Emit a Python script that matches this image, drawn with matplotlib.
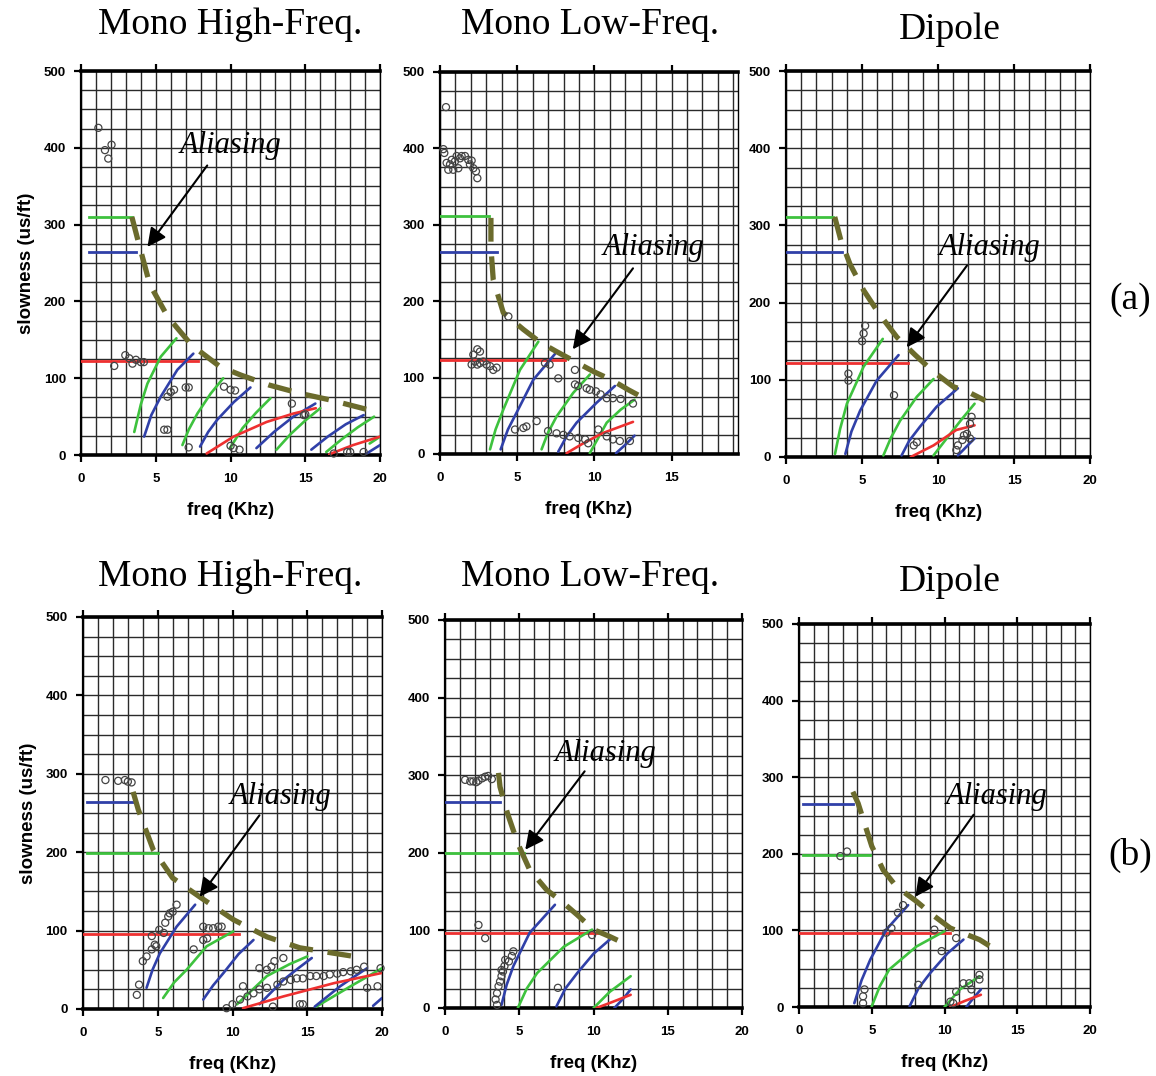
import matplotlib
matplotlib.use("Agg")
import matplotlib.pyplot as plt

# ---- data (freq in kHz, slowness in us/ft) ----
# row (a)
hf_a_levels = {"green": (310, 0.5, 3.4), "blue": (265, 0.5, 3.7), "red": (123, 0.0, 7.8)}
hf_a_dash = [(3.4, 310), (3.8, 280), (4.6, 222), (5.8, 180), (7.4, 143), (9.3, 115),
             (10.7, 104), (12.6, 91), (14.7, 80), (16.6, 72), (19.4, 58)]
hf_a_green = [[(3.56, 30), (4.0, 66), (4.44, 93), (5.33, 128), (6.38, 152)],
              [(6.78, 13), (7.2, 33), (7.78, 54), (8.67, 80), (9.51, 100)],
              [(9.96, 9), (10.8, 35), (11.7, 55), (12.67, 74)],
              [(13.07, 7), (14.0, 27), (15.0, 45), (16.0, 61)],
              [(16.4, 4), (17.4, 20), (18.5, 36), (19.6, 50)],
              [(19.3, 15), (20, 24)]]
hf_a_blue = [[(4.22, 24), (4.7, 52), (5.33, 76), (6.44, 111), (7.51, 132)],
             [(7.96, 11), (8.5, 30), (9.11, 46), (10.22, 69), (11.33, 88)],
             [(11.73, 9), (12.9, 30), (14.2, 50), (15.67, 67)],
             [(15.4, 7), (16.5, 24), (17.7, 40), (18.9, 52)],
             [(19.1, 2), (20, 13)]]
hf_a_red = [[(8.4, 2), (10.2, 24), (12.4, 43), (14.2, 54), (15.7, 61)],
            [(16.6, 1), (18.2, 13), (20, 24)]]
hf_a_pts = [(1.16, 426), (1.6, 397), (1.82, 386), (2.04, 404), (2.22, 116), (2.96, 130),
            (3.22, 126), (3.44, 119), (3.67, 124), (4.0, 121), (4.2, 121), (5.78, 76),
            (6.0, 82), (6.22, 85), (7.0, 88), (7.2, 88), (5.56, 33), (5.78, 33), (7.2, 10),
            (9.56, 89), (10.0, 85), (10.3, 84), (10.0, 12), (10.2, 9), (10.6, 7),
            (14.1, 67), (14.9, 52), (15.0, 53), (16.9, 2), (17.8, 4), (18.0, 4), (18.9, 4)]
hf_a_note = [(10.0, 403), (8.44, 377), (4.44, 271)]

lf_a_levels = {"green": (311, 0.0, 3.2), "blue": (265, 0.0, 3.7), "red": (123, 0.0, 8.1)}
lf_a_dash = [(3.3, 309), (3.3, 270), (3.45, 228), (4.1, 185), (5.4, 163), (6.5, 146),
             (7.55, 134), (8.74, 121), (9.93, 108), (11.1, 97), (12.2, 84), (13.4, 71)]
lf_a_green = [[(3.24, 6), (3.6, 32), (4.1, 58), (5.18, 110), (6.37, 147)],
              [(6.58, 6), (7.0, 28), (7.55, 49), (8.63, 80), (9.71, 104)],
              [(9.7, 1), (10.8, 41), (11.7, 58), (12.6, 71)]]
lf_a_blue = [[(3.93, 6), (4.4, 32), (4.96, 54), (6.04, 97), (7.45, 131)],
             [(7.66, 3), (8.2, 23), (8.85, 41), (10.14, 67), (11.33, 89)],
             [(11.4, 1), (12.0, 12), (12.6, 24)]]
lf_a_red = [[(8.2, 1), (9.2, 13), (10.5, 27), (12.5, 42)]]
lf_a_pts = [(0.39, 454), (0.22, 399), (0.28, 394), (0.43, 381), (0.65, 379), (0.76, 385),
            (0.97, 383), (1.08, 390), (1.3, 387), (1.4, 390), (1.62, 390), (1.83, 385),
            (2.05, 384), (1.94, 379), (2.16, 374), (2.33, 370), (2.42, 361), (0.54, 372),
            (0.86, 372), (1.19, 374),
            (2.16, 130), (2.42, 137), (2.59, 134), (2.27, 121), (2.59, 119), (2.8, 121),
            (3.02, 117), (3.24, 115), (3.45, 110), (3.67, 113), (2.05, 117), (2.42, 117),
            (4.43, 180), (6.8, 119), (7.1, 117), (8.74, 110), (7.66, 99),
            (8.74, 91), (8.95, 89), (9.5, 86), (9.7, 84), (10.1, 82), (10.4, 78),
            (10.8, 73), (11.2, 73), (11.7, 72), (12.5, 66),
            (4.86, 32), (5.4, 34), (5.6, 36), (6.26, 43), (7.0, 30), (7.55, 27), (7.99, 25),
            (8.4, 23), (8.96, 21), (9.4, 19), (9.6, 14), (10.25, 32), (10.8, 23),
            (11.2, 19), (11.65, 17), (12.3, 17)]
lf_a_note = [(13.8, 270), (12.5, 243), (8.6, 137)]

dp_a_levels = {"green": (311, 0.0, 3.1), "blue": (265, 0.0, 3.7), "red": (122, 0.0, 8.05)}
dp_a_dash = [(3.2, 311), (3.6, 281), (4.2, 250), (5.1, 216), (6.1, 186), (7.3, 155),
             (8.5, 132), (9.6, 112), (11.0, 91), (11.8, 86), (13.1, 73)]
dp_a_green = [[(3.22, 4), (3.55, 36), (4.0, 69), (5.1, 117), (6.36, 153)],
              [(6.4, 2), (6.9, 25), (7.5, 47), (8.6, 78), (9.7, 101)],
              [(9.7, 2), (10.8, 30), (11.6, 50), (12.4, 69)]]
dp_a_blue = [[(3.9, 4), (4.3, 33), (4.87, 60), (5.96, 99), (7.4, 132)],
             [(7.6, 2), (8.1, 21), (8.8, 39), (9.9, 65), (11.3, 89)],
             [(11.3, 2), (11.8, 12), (12.4, 24)]]
dp_a_red = [[(8.2, 0), (9.7, 15), (11.2, 35), (12.4, 41)]]
dp_a_pts = [(5.0, 150), (5.1, 160), (5.2, 170), (4.1, 99), (4.1, 108), (7.1, 80),
            (8.4, 15), (8.6, 19), (11.2, 9), (11.3, 15), (11.6, 22), (11.7, 28),
            (11.9, 30), (12.1, 43), (12.2, 52), (12.1, 24)]
dp_a_note = [(13.4, 272), (11.9, 248), (7.94, 142)]

# row (b)
hf_b_levels = {"blue": (264, 0.3, 3.35), "green": (199, 0.3, 5.0), "red": (96, 0.0, 10.4)}
hf_b_dash = [(3.35, 277), (3.7, 254), (4.7, 203), (6.0, 167), (7.8, 143), (10.05, 114),
             (12.3, 92), (14.5, 78), (16.8, 71), (18.8, 65)]
hf_b_green = [[(5.36, 14), (6.1, 34), (6.93, 50), (8.27, 80), (10.05, 99)],
              [(10.3, 6), (12.3, 42), (13.8, 57), (15.0, 67)],
              [(15.6, 3), (17.9, 29), (19.0, 41), (20, 52)]]
hf_b_blue = [[(4.25, 27), (4.65, 50), (5.14, 71), (6.26, 105), (7.5, 133)],
             [(8.04, 12), (8.7, 30), (9.4, 46), (10.4, 70), (11.4, 88)],
             [(11.8, 6), (13.4, 37), (14.4, 52), (15.3, 65)],
             [(15.5, 3), (17.2, 29), (18.2, 42), (19.0, 52)],
             [(19.4, 4), (20, 14)]]
hf_b_red = [[(10.7, 1), (13.4, 16), (16.8, 33), (20, 46)]]
hf_b_pts = [(1.5, 292), (2.35, 291), (2.8, 292), (3.0, 290), (3.25, 289), (3.6, 18), (3.75, 31),
            (4.0, 61), (4.25, 67), (4.6, 76), (4.9, 80), (4.6, 93), (5.1, 101), (5.5, 110),
            (5.7, 118), (6.0, 124), (6.26, 133), (5.8, 122), (5.4, 97), (4.8, 82), (7.4, 76),
            (8.04, 105), (8.4, 103), (8.7, 103), (9.05, 105), (9.27, 105), (8.04, 88), (8.3, 90),
            (10.7, 29), (11.8, 52), (12.3, 50), (12.8, 61), (13.4, 65), (12.6, 54),
            (9.6, 1), (10.0, 6), (10.5, 12), (11.0, 16), (11.4, 20), (11.8, 25), (12.3, 27),
            (13.0, 31), (13.4, 35), (13.9, 37), (14.3, 39), (14.7, 39), (15.2, 42), (15.6, 42),
            (16.1, 42), (16.5, 44), (17.0, 45), (17.4, 47), (17.9, 48), (18.3, 50), (18.8, 54),
            (19.0, 27), (19.7, 29), (19.9, 52), (12.7, 3), (14.5, 6), (14.7, 6)]
hf_b_note = [(13.2, 271), (11.8, 247), (7.8, 143)]

lf_b_levels = {"blue": (265, 0.0, 3.7), "green": (200, 0.0, 5.3), "red": (97, 0.0, 10.2)}
lf_b_dash = [(3.6, 303), (3.7, 285), (4.2, 251), (4.9, 212), (5.7, 178), (6.85, 152),
             (7.75, 139), (8.9, 120), (10.0, 101), (11.1, 92), (12.2, 82)]
lf_b_green = [[(4.9, 0), (5.5, 25), (6.2, 45), (8.0, 79), (9.9, 101)],
              [(10.0, 0), (11.1, 21), (12.5, 41)]]
lf_b_blue = [[(3.8, 4), (4.15, 30), (4.6, 54), (5.7, 97), (7.4, 133)],
             [(7.5, 2), (8.1, 25), (8.9, 45), (10.0, 70), (11.2, 90)],
             [(11.4, 0), (12.0, 12), (12.5, 24)]]
lf_b_red = [[(10.2, 0), (11.3, 8), (12.5, 17)]]
lf_b_pts = [(1.35, 294), (1.7, 292), (1.9, 292), (2.1, 291), (2.25, 293), (2.5, 296),
            (2.7, 298), (2.9, 299), (3.15, 295), (2.25, 107), (2.7, 90), (4.6, 73), (4.5, 67),
            (4.3, 60), (4.05, 62), (4.0, 54), (3.9, 47), (3.8, 49), (3.8, 41), (3.7, 34),
            (3.6, 28), (3.5, 19), (3.4, 11), (3.5, 4), (7.6, 26), (9.9, 94)]
lf_b_note = [(10.8, 328), (9.4, 305), (5.4, 204)]

dp_b_levels = {"blue": (265, 0.3, 3.7), "green": (199, 0.3, 4.9), "red": (96.5, 0.0, 10.4)}
dp_b_dash = [(3.7, 281), (4.06, 266), (5.0, 210), (5.78, 179), (6.7, 157), (8.07, 138),
             (9.2, 120), (10.4, 103), (12.4, 88), (13.5, 75)]
dp_b_green = [[(5.0, 1), (5.55, 27), (6.2, 49), (8.07, 79), (10.0, 99)],
              [(10.0, 0), (11.06, 23), (12.4, 40)]]
dp_b_blue = [[(3.8, 5), (4.3, 35), (4.9, 62), (6.0, 101), (7.5, 133)],
             [(7.6, 1), (8.2, 24), (9.0, 44), (10.2, 70), (11.3, 88)],
             [(11.5, 0), (12.0, 12), (12.5, 23)]]
dp_b_red = [[(10.4, 0), (11.4, 8), (12.5, 16)]]
dp_b_pts = [(2.84, 197), (3.3, 203), (4.5, 23), (4.4, 14), (4.4, 5), (6.0, 97), (6.35, 103),
            (6.8, 123), (7.15, 133), (9.3, 101), (9.8, 73), (10.8, 90), (8.2, 29), (10.4, 7),
            (10.8, 20), (11.3, 31), (11.7, 31), (11.85, 23), (12.4, 42), (12.4, 36), (10.6, 5)]
dp_b_note = [(13.6, 275), (12.0, 251), (8.0, 144)]

titles = ["Mono High-Freq.", "Mono Low-Freq.", "Dipole"]
xticks = [0, 5, 10, 15, 20]
yticks = [0, 100, 200, 300, 400, 500]

colors = {"green": "#3ec23e", "blue": "#3040a8", "red": "#ee3030"}
dash_color = "#6b6b2c"

SERIF = "Liberation Serif"
SANS = "Liberation Sans"

fig = plt.figure(figsize=(11.56, 10.76), dpi=100)


def draw(rect, xmax, levels, dash, greens, blues, reds, pts, note, ylabel):
    ax = fig.add_axes(rect)
    ax.set_xlim(0, xmax)
    ax.set_ylim(0, 500)
    ax.set_xticks([t for t in xticks if t <= xmax])
    ax.set_xticks(range(0, int(xmax) + 1), minor=True)
    ax.set_yticks(yticks)
    ax.set_yticks(range(0, 501, 25), minor=True)
    ax.grid(True, which="both", color="#2a2a2a", lw=1.0)
    ax.set_axisbelow(True)

    for sp in ("top", "bottom"):
        ax.spines[sp].set_linewidth(2.6)
    ax.spines["left"].set_linewidth(1.6)
    ax.spines["right"].set_linewidth(1.0)

    ax.tick_params(which="major", direction="out", length=5, width=1.6,
                   labelsize=9.5, pad=8, top=True, labeltop=False)
    ax.tick_params(axis="y", which="major", pad=6)
    ax.tick_params(which="minor", length=0)
    for lab in ax.get_xticklabels() + ax.get_yticklabels():
        lab.set_fontfamily(SANS)
        lab.set_fontweight("bold")

    for name, (lvl, x0, x1) in levels.items():
        ax.plot([x0, x1], [lvl, lvl], color=colors[name], lw=2.0, zorder=3)
    for group, name in ((greens, "green"), (blues, "blue"), (reds, "red")):
        for arc in group:
            ax.plot([p[0] for p in arc], [p[1] for p in arc], color=colors[name],
                    lw=1.9, zorder=3, solid_capstyle="round", solid_joinstyle="round")

    ax.plot([p[0] for p in dash], [p[1] for p in dash], color=dash_color, lw=3.8,
            ls=(0, (4.5, 2.8)), zorder=4)
    ax.scatter([p[0] for p in pts], [p[1] for p in pts], s=26, facecolors="none",
               edgecolors="#444444", linewidths=0.9, zorder=5, clip_on=False)

    (tx, ty), (ax0, ay0), (ax1, ay1) = note
    ax.text(tx, ty, "Aliasing", fontfamily=SERIF, style="italic", fontsize=22,
            ha="center", va="center", zorder=6)
    ax.annotate("", xy=(ax1, ay1), xytext=(ax0, ay0),
                arrowprops=dict(arrowstyle="-|>", color="black", lw=1.5,
                                mutation_scale=28, shrinkA=0, shrinkB=0), zorder=6)

    ax.set_xlabel("freq (Khz)", fontfamily=SANS, fontweight="bold", fontsize=13.5,
                  labelpad=12)
    if ylabel:
        ax.set_ylabel("slowness (us/ft)", fontfamily=SANS, fontweight="bold",
                      fontsize=13.5, labelpad=6)
    return ax


draw([0.0701, 0.5771, 0.2587, 0.3569], 20, hf_a_levels, hf_a_dash, hf_a_green, hf_a_blue,
     hf_a_red, hf_a_pts, hf_a_note, True)
draw([0.3806, 0.5781, 0.2578, 0.3550], 19.3, lf_a_levels, lf_a_dash, lf_a_green, lf_a_blue,
     lf_a_red, lf_a_pts, lf_a_note, False)
draw([0.6800, 0.5753, 0.2630, 0.3587], 20, dp_a_levels, dp_a_dash, dp_a_green, dp_a_blue,
     dp_a_red, dp_a_pts, dp_a_note, False)
draw([0.0718, 0.0623, 0.2587, 0.3643], 20, hf_b_levels, hf_b_dash, hf_b_green, hf_b_blue,
     hf_b_red, hf_b_pts, hf_b_note, True)
draw([0.3850, 0.0632, 0.2569, 0.3606], 20, lf_b_levels, lf_b_dash, lf_b_green, lf_b_blue,
     lf_b_red, lf_b_pts, lf_b_note, False)
draw([0.6912, 0.0641, 0.2517, 0.3560], 20, dp_b_levels, dp_b_dash, dp_b_green, dp_b_blue,
     dp_b_red, dp_b_pts, dp_b_note, False)

title_x = [230 / 1156, 590 / 1156, 950 / 1156]
for row_y, dip_y in ((1 - 25 / 1076, 1 - 30 / 1076), (1 - 577 / 1076, 1 - 582 / 1076)):
    for i, t in enumerate(titles):
        fig.text(title_x[i], dip_y if t == "Dipole" else row_y, t, fontfamily=SERIF,
                 fontsize=27, ha="center", va="center")

fig.text(1130 / 1156, 1 - 300 / 1076, "(a)", fontfamily=SERIF, fontsize=27,
         ha="center", va="center")
fig.text(1130 / 1156, 1 - 855 / 1076, "(b)", fontfamily=SERIF, fontsize=27,
         ha="center", va="center")

fig.savefig("out.png", dpi=100)
